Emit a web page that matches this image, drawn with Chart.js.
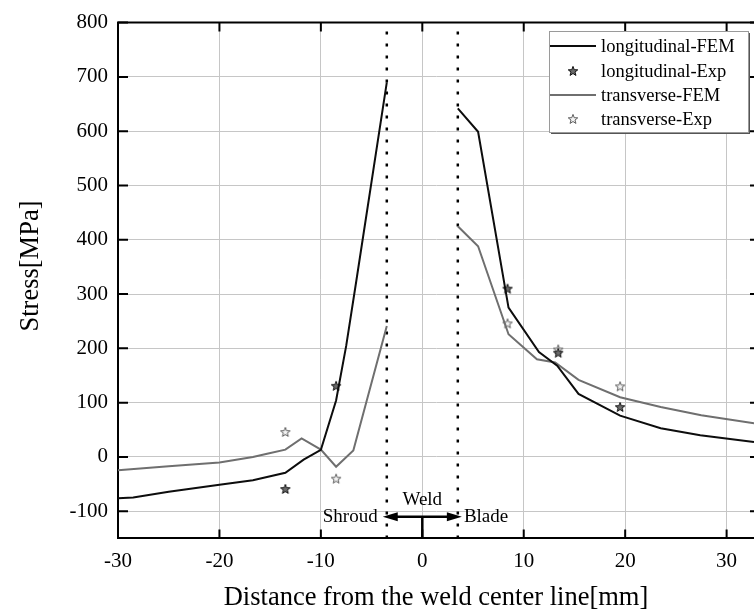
<!DOCTYPE html>
<html>
<head>
<meta charset="utf-8">
<script src="https://cdn.jsdelivr.net/npm/chart.js@4.4.1/dist/chart.umd.min.js"></script>
<style>
  html, body { margin: 0; padding: 0; background: #fff; }
  #chart { display: block; }
</style>
</head>
<body>
<canvas id="chart" width="754" height="614"></canvas>
<script>
// values
const longShroudX = [-30, -28.5, -25, -20, -16.7, -13.5, -11.7, -10, -8.5, -7.5, -6.5, -3.5];
const longShroudY = [-76, -74.5, -64, -51, -43, -29, -5, 13, 104, 205, 325, 690];
const longBladeX = [3.5, 5.5, 8.5, 11.5, 13.3, 15.4, 19.5, 23.5, 27.4, 32.7];
const longBladeY = [642, 599, 275, 193, 168, 116, 76, 53, 40, 27.5];

const transShroudX = [-30, -25, -20, -16.7, -15.3, -13.5, -11.9, -10, -8.5, -6.8, -3.5];
const transShroudY = [-24.5, -17, -10, 0, 6, 13.5, 34, 13.5, -18, 12, 241];
const transBladeX = [3.5, 5.5, 8.5, 11.3, 13.1, 15.4, 19.5, 23.5, 27.5, 32.7];
const transBladeY = [425, 388, 226, 180, 174, 142, 110, 92, 77, 62];

const expX = [-13.5, -8.5, 8.4, 13.4, 19.5];
const longExpY = [-59, 131, 310, 192, 92];
const transExpY = [46, -40, 246, 198, 130];

const weldBounds = [-3.5, 3.5];
const xTicks = [-30, -20, -10, 0, 10, 20, 30];
const yTicks = [-100, 0, 100, 200, 300, 400, 500, 600, 700, 800];

const serif = 'Liberation Serif';
const longColor = '#0d0d0d';
const transColor = '#6f6f6f';

function pts(xs, ys) {
    return xs.map((x, i) => ({ x: x, y: ys[i] }));
}

// two sides of the weld, with a gap in between
function segmented(ax, ay, bx, by) {
    return pts(ax, ay).concat([{ x: 0, y: null }], pts(bx, by));
}

// small open 5-point star used as marker
function makeStar(fill, stroke) {
    const c = document.createElement('canvas');
    c.width = 12; c.height = 12;
    const g = c.getContext('2d');
    g.beginPath();
    for (let i = 0; i < 10; i++) {
        const r = i % 2 === 0 ? 5 : 2.1;
        const a = -Math.PI / 2 + i * Math.PI / 5;
        g.lineTo(6 + r * Math.cos(a), 6.4 + r * Math.sin(a));
    }
    g.closePath();
    g.fillStyle = fill;
    g.fill();
    g.lineWidth = 1;
    g.strokeStyle = stroke;
    g.stroke();
    return c;
}

const longStar = makeStar('#6a6a6a', '#111');
const transStar = makeStar('#f2f2f2', '#5e5e5e');

const datasets = [
    {
        label: 'longitudinal-FEM',
        data: segmented(longShroudX, longShroudY, longBladeX, longBladeY),
        showLine: true, borderColor: longColor, borderWidth: 2, pointRadius: 0, spanGaps: false
    },
    {
        label: 'longitudinal-Exp',
        data: pts(expX, longExpY),
        pointStyle: longStar, pointRadius: 6
    },
    {
        label: 'transverse-FEM',
        data: segmented(transShroudX, transShroudY, transBladeX, transBladeY),
        showLine: true, borderColor: transColor, borderWidth: 2, pointRadius: 0, spanGaps: false
    },
    {
        label: 'transverse-Exp',
        data: pts(expX, transExpY),
        pointStyle: transStar, pointRadius: 6
    }
];

// dotted weld boundaries
weldBounds.forEach(b => {
    datasets.push({
        label: '',
        data: [{ x: b, y: -150 }, { x: b, y: 800 }],
        showLine: true, borderColor: '#000', borderWidth: 2.5, borderDash: [3, 9],
        pointRadius: 0
    });
});

const decor = {
    id: 'decor',
    afterDatasetsDraw(chart) {
        const ctx = chart.ctx;
        const a = chart.chartArea;
        const xs = chart.scales.x, ys = chart.scales.y;
        ctx.save();

        // top frame line
        ctx.strokeStyle = '#000';
        ctx.lineWidth = 2;
        ctx.beginPath();
        ctx.moveTo(a.left - 1, a.top);
        ctx.lineTo(a.right, a.top);
        ctx.stroke();

        // inward tick marks
        ctx.beginPath();
        xTicks.forEach(v => {
            const px = xs.getPixelForValue(v);
            ctx.moveTo(px, a.bottom); ctx.lineTo(px, a.bottom - 9);
            ctx.moveTo(px, a.top); ctx.lineTo(px, a.top + 9);
        });
        yTicks.forEach(v => {
            const py = ys.getPixelForValue(v);
            ctx.moveTo(a.left, py); ctx.lineTo(a.left + 10, py);
            ctx.moveTo(a.right, py); ctx.lineTo(a.right - 4, py);
        });
        ctx.stroke();

        // weld annotation
        const ay = ys.getPixelForValue(-110);
        const x0 = xs.getPixelForValue(0);
        const xl = xs.getPixelForValue(-3.9);
        const xr = xs.getPixelForValue(3.9);
        ctx.lineWidth = 2.5;
        ctx.beginPath();
        ctx.moveTo(xl + 10, ay); ctx.lineTo(xr - 10, ay);
        ctx.moveTo(x0, ay); ctx.lineTo(x0, a.bottom);
        ctx.stroke();
        ctx.fillStyle = '#000';
        ctx.beginPath();
        ctx.moveTo(xl, ay); ctx.lineTo(xl + 15, ay - 4.5); ctx.lineTo(xl + 15, ay + 4.5); ctx.closePath();
        ctx.moveTo(xr, ay); ctx.lineTo(xr - 15, ay - 4.5); ctx.lineTo(xr - 15, ay + 4.5); ctx.closePath();
        ctx.fill();

        ctx.font = '19px "' + serif + '"';
        ctx.textBaseline = 'middle';
        ctx.textAlign = 'center';
        ctx.fillText('Weld', x0, ys.getPixelForValue(-80));
        ctx.textAlign = 'right';
        ctx.fillText('Shroud', xs.getPixelForValue(-4.4), ay);
        ctx.textAlign = 'left';
        ctx.fillText('Blade', xs.getPixelForValue(4.1), ay);

        // legend box
        const lx = 549, ly = 31, lw = 199, lh = 101;
        ctx.fillStyle = '#fff';
        ctx.fillRect(lx, ly, lw, lh);
        ctx.strokeStyle = '#555';
        ctx.lineWidth = 2;
        ctx.beginPath();
        ctx.moveTo(lx + lw + 1, ly + 2); ctx.lineTo(lx + lw + 1, ly + lh + 1); ctx.lineTo(lx + 2, ly + lh + 1);
        ctx.stroke();
        ctx.strokeStyle = '#9a9a9a';
        ctx.lineWidth = 1;
        ctx.strokeRect(lx + 0.5, ly + 0.5, lw, lh);

        const rows = [46, 71, 95, 119];
        ctx.font = '18.5px "' + serif + '"';
        ctx.textAlign = 'left';
        ctx.textBaseline = 'middle';
        datasets.slice(0, 4).forEach((ds, i) => {
            const ry = rows[i];
            if (ds.showLine) {
                ctx.strokeStyle = ds.borderColor;
                ctx.lineWidth = 2;
                ctx.beginPath();
                ctx.moveTo(550, ry); ctx.lineTo(596, ry);
                ctx.stroke();
            } else {
                ctx.drawImage(ds.pointStyle, 573 - 6, ry - 6);
            }
            ctx.fillStyle = '#000';
            ctx.fillText(ds.label, 601, ry + 1);
        });

        // y axis title
        ctx.save();
        ctx.translate(31, 266);
        ctx.rotate(-Math.PI / 2);
        ctx.textAlign = 'center';
        ctx.textBaseline = 'middle';
        ctx.font = '26.5px "' + serif + '"';
        ctx.fillStyle = '#000';
        ctx.fillText('Stress[MPa]', 0, 0);
        ctx.restore();

        ctx.restore();
    }
};

const ctx = document.getElementById('chart').getContext('2d');
new Chart(ctx, {
    type: 'scatter',
    data: { datasets: datasets },
    options: {
        responsive: false,
        animation: false,
        layout: { autoPadding: false, padding: { top: 20.7, left: 0, right: 0, bottom: 0 } },
        plugins: {
            legend: { display: false },
            tooltip: { enabled: false }
        },
        scales: {
            x: {
                type: 'linear',
                min: -30,
                max: 32.7,
                ticks: {
                    stepSize: 10,
                    includeBounds: false,
                    color: '#000',
                    padding: 10,
                    font: { family: serif, size: 21 }
                },
                grid: { color: '#c6c6c6', lineWidth: 1, drawTicks: false },
                border: { color: '#000', width: 2 },
                title: {
                    display: true,
                    text: 'Distance from the weld center line[mm]',
                    color: '#000',
                    font: { family: serif, size: 26.5 },
                    padding: { top: 0, bottom: 0 }
                },
                afterFit: s => {
                    s.height = 75.6;
                    s.paddingRight = 0;
                    s.paddingLeft = 0;
                }
            },
            y: {
                type: 'linear',
                min: -150,
                max: 800,
                ticks: {
                    stepSize: 100,
                    includeBounds: false,
                    color: '#000',
                    padding: 10,
                    font: { family: serif, size: 21 }
                },
                grid: { color: '#c6c6c6', lineWidth: 1, drawTicks: false },
                border: { color: '#000', width: 2 },
                afterFit: s => { s.width = 118; }
            }
        }
    },
    plugins: [decor]
});
</script>
</body>
</html>
